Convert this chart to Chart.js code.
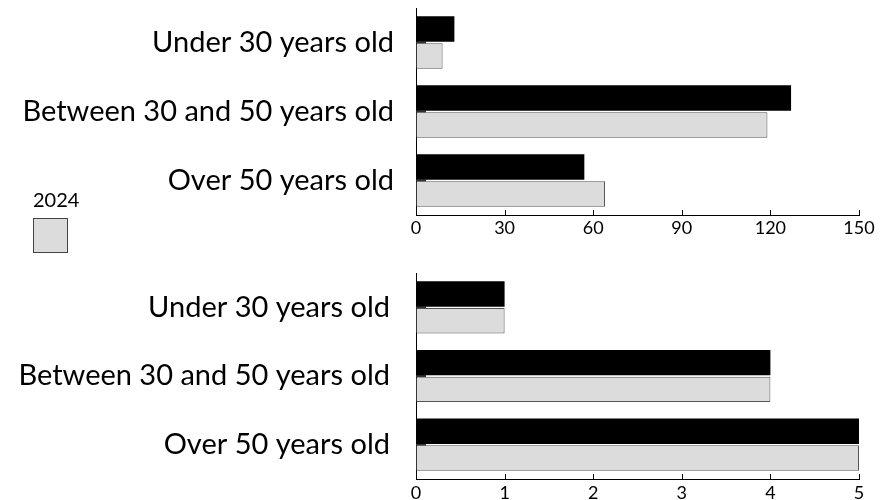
<!DOCTYPE html>
<html><head><meta charset="utf-8">
<script src="https://cdn.jsdelivr.net/npm/chart.js@4/dist/chart.umd.min.js"></script>
<style>
html,body{margin:0;padding:0;background:#fff;width:894px;height:500px;overflow:hidden}
#w1{position:absolute;left:0;top:0;width:894px;height:250px}
#w2{position:absolute;left:0;top:255px;width:894px;height:245px}
#legend{position:absolute;left:33px;top:187px;font-family:Lato,sans-serif;font-size:20px;color:#000}
#legend .box{width:33px;height:33px;background:#dcdcdc;border:1px solid #444;margin-top:7px}
</style></head>
<body>
<div id="w1"><canvas id="c1"></canvas></div>
<div id="w2"><canvas id="c2"></canvas></div>
<div id="legend"></div>
<script>
const categories = ["Under 30 years old", "Between 30 and 50 years old", "Over 50 years old"];
const seriesNames = ["2023", "2024"];
const topBlack = [13, 127, 57];
const topGray = [9, 119, 64];
const bottomBlack = [1, 4, 5];
const bottomGray = [1, 4, 5];
const topTicks = [0, 30, 60, 90, 120, 150];
const bottomTicks = [0, 1, 2, 3, 4, 5];

const FONT = 'Lato, sans-serif';

const innerTicks = {
  id: 'innerTicks',
  beforeDatasetsDraw(chart) {
    const ctx = chart.ctx, y = chart.scales.y;
    ctx.save();
    ctx.strokeStyle = '#333'; ctx.lineWidth = 2;
    y.ticks.forEach((t, i) => {
      const py = y.getPixelForTick(i);
      ctx.beginPath(); ctx.moveTo(y.right, py); ctx.lineTo(y.right + 10, py); ctx.stroke();
    });
    ctx.restore();
  },
  afterDraw(chart) {
    const ctx = chart.ctx, x = chart.scales.x;
    ctx.save();
    ctx.strokeStyle = '#000'; ctx.lineWidth = 1;
    x.ticks.forEach((t, i) => {
      const px = Math.round(x.getPixelForTick(i)) + 0.5;
      ctx.beginPath(); ctx.moveTo(px, x.top); ctx.lineTo(px, x.top - 5); ctx.stroke();
    });
    ctx.restore();
  }
};

function makeChart(id, black, gray, ticks, padTop, xHeight, labelPad, xPad) {
  return new Chart(document.getElementById(id), {
    type: 'bar',
    data: {
      labels: categories,
      datasets: [
        { label: seriesNames[0], data: black, backgroundColor: '#000', borderWidth: 0,
          categoryPercentage: 0.78, barPercentage: 0.95 },
        { label: seriesNames[1], data: gray, backgroundColor: '#dcdcdc', borderColor: '#555', borderWidth: 1,
          categoryPercentage: 0.78, barPercentage: 0.95 }
      ]
    },
    plugins: [innerTicks],
    options: {
      indexAxis: 'y',
      responsive: true,
      maintainAspectRatio: false,
      animation: false,
      layout: { padding: { top: padTop, right: 35, left: 0, bottom: 0 } },
      plugins: { legend: { display: false }, tooltip: { enabled: false } },
      scales: {
        x: {
          min: ticks[0], max: ticks[ticks.length - 1],
          afterBuildTicks(s) { s.ticks = ticks.map(v => ({ value: v })); },
          afterFit(s) { s.height = xHeight; s.paddingLeft = 0; s.paddingRight = 0; },
          grid: { drawOnChartArea: false, drawTicks: false },
          border: { display: true, color: '#000', width: 1 },
          ticks: { color: '#000', font: { family: FONT, size: 18 }, padding: xPad, maxRotation: 0 }
        },
        y: {
          afterFit(s) { s.width = 416; s.paddingTop = 0; s.paddingBottom = 0; },
          grid: { drawOnChartArea: false, drawTicks: false },
          border: { display: true, color: '#000', width: 1 },
          ticks: { color: '#000', font: { family: FONT, size: 29 }, padding: labelPad }
        }
      }
    }
  });
}

const ch1 = makeChart('c1', topBlack, topGray, topTicks, 8, 35, 22, 2);
const ch2 = makeChart('c2', bottomBlack, bottomGray, bottomTicks, 18, 21, 26, 3);

const lg = document.getElementById('legend');
const ds = ch1.data.datasets[1];
lg.innerHTML = '<div>' + ds.label + '</div><div class="box"></div>';
</script>
</body></html>
